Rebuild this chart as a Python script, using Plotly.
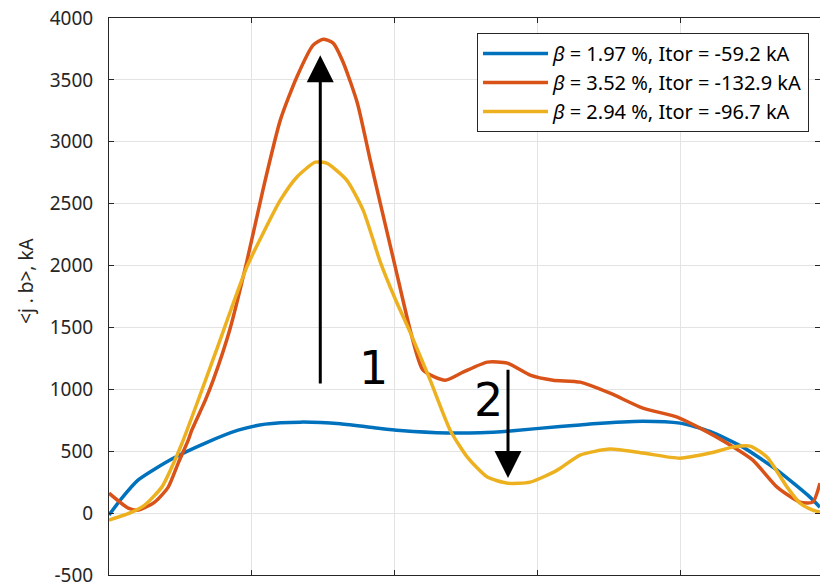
import plotly.graph_objects as go

# normalized radial coordinate (x axis has no visible labels)
x_blue = [0, 0.018, 0.041, 0.088, 0.135, 0.181, 0.219, 0.268, 0.324, 0.380, 0.408, 0.474, 0.520,
          0.566, 0.632, 0.660, 0.678, 0.748, 0.800, 0.842, 0.888, 0.936, 0.982, 0.996]
y_blue = [-15, 121, 268, 437, 566, 670, 719, 735, 722, 684, 668, 648, 650,
          666, 700, 712, 722, 743, 727, 660, 533, 347, 129, 48]

x_red = [0.000, 0.027, 0.041, 0.064, 0.083, 0.097, 0.111, 0.116, 0.135, 0.146, 0.169, 0.193,
         0.216, 0.240, 0.263, 0.286, 0.300, 0.314, 0.328, 0.348, 0.366, 0.380, 0.401, 0.422,
         0.440, 0.471, 0.496, 0.530, 0.558, 0.590, 0.622, 0.660, 0.702, 0.748, 0.796, 0.828,
         0.866, 0.902, 0.936, 0.968, 0.986, 0.996]
y_red = [161, 40, 24, 89, 210, 404, 590, 670, 913, 1074, 1478, 2030,
         2620, 3175, 3522, 3781, 3829, 3797, 3643, 3312, 2852, 2504, 1990, 1478,
         1155, 1074, 1139, 1220, 1212, 1115, 1074, 1058, 969, 848, 776, 687,
         565, 428, 210, 89, 89, 242]

x_yel = [0.000, 0.032, 0.050, 0.074, 0.088, 0.104, 0.125, 0.149, 0.193, 0.216, 0.240, 0.263,
         0.289, 0.305, 0.333, 0.356, 0.380, 0.401, 0.422, 0.450, 0.478, 0.502, 0.530, 0.558,
         0.590, 0.628, 0.660, 0.702, 0.748, 0.800, 0.842, 0.874, 0.898, 0.922, 0.950, 0.968,
         0.986, 0.996]
y_yel = [-57, 8, 65, 210, 372, 590, 913, 1292, 1987, 2262, 2528, 2714,
         2835, 2827, 2690, 2448, 2030, 1730, 1460, 1074, 670, 452, 291, 242,
         250, 347, 469, 517, 485, 444, 485, 533, 541, 452, 210, 81,
         24, 8]

names = ["<i>β</i> = 1.97 %, Itor = -59.2 kA",
         "<i>β</i> = 3.52 %, Itor = -132.9 kA",
         "<i>β</i> = 2.94 %, Itor = -96.7 kA"]
colors = ["#0072BD", "#D95319", "#EDB120"]

y_ticks = [-500, 0, 500, 1000, 1500, 2000, 2500, 3000, 3500, 4000]
x_ticks = [0, 0.2, 0.4, 0.6, 0.8]

# arrows: (x, tail y, head y) and labels
arrow1 = (0.296, 1034, 3700)
arrow2 = (0.559, 1171, 283)
label1 = (0.370, 1171, "1")
label2 = (0.531, 913, "2")

fig = go.Figure()
for xs, ys, nm, c in [(x_blue, y_blue, names[0], colors[0]),
                      (x_red, y_red, names[1], colors[1]),
                      (x_yel, y_yel, names[2], colors[2])]:
    fig.add_trace(go.Scatter(x=xs, y=ys, name=nm, mode="lines",
                             line=dict(color=c, width=3.5, shape="spline", smoothing=0.6)))

# invisible trace for right-hand ticks
fig.add_trace(go.Scatter(x=[0], y=[0], yaxis="y2", mode="markers",
                         marker=dict(opacity=0), showlegend=False, hoverinfo="skip"))

axis_col = "#262626"
grid_col = "#e3e3e3"
tick_font = dict(family="Noto Sans", size=19, color=axis_col)

fig.update_layout(
    width=820, height=582,
    margin=dict(l=109, r=0, t=18, b=7, autoexpand=False),
    paper_bgcolor="white", plot_bgcolor="white",
    showlegend=True,
    legend=dict(x=0.5176, y=0.973, xanchor="left", yanchor="top",
                bgcolor="white", bordercolor=axis_col, borderwidth=1,
                font=dict(family="Noto Sans", size=20, color="#000000"),
                itemwidth=65),
    xaxis=dict(range=[0, 0.9961], tickvals=x_ticks, showticklabels=False,
               ticks="inside", ticklen=5, tickcolor=axis_col, automargin=False,
               showline=True, linecolor=axis_col, linewidth=1, mirror="ticks",
               showgrid=True, gridcolor=grid_col, gridwidth=1, zeroline=False),
    yaxis=dict(range=[-500, 4000], tickvals=y_ticks,
               ticktext=[str(v) for v in y_ticks],
               ticks="inside", ticklen=5, tickcolor=axis_col, tickfont=tick_font,
               ticklabelstandoff=11, ticklabeloverflow="allow", automargin=False,
               showline=True, linecolor=axis_col, linewidth=1,
               showgrid=True, gridcolor=grid_col, gridwidth=1, zeroline=False),
    yaxis2=dict(range=[-500, 4000], tickvals=y_ticks, overlaying="y", side="right",
                ticks="inside", ticklen=5, tickcolor=axis_col, showticklabels=False,
                showline=False, showgrid=False, zeroline=False, automargin=False),
)

annotations = []
for ax_, tail, head in [arrow1, arrow2]:
    annotations.append(dict(x=ax_, y=head, ax=ax_, ay=tail, xref="x", yref="y",
                            axref="x", ayref="y", text="", showarrow=True,
                            arrowhead=2, arrowsize=1.8, arrowwidth=3, arrowcolor="black"))
for lx, ly, t in [label1, label2]:
    annotations.append(dict(x=lx, y=ly, xref="x", yref="y", text=t, showarrow=False,
                            font=dict(family="DejaVu Sans", size=46, color="black")))
annotations.append(dict(x=-0.1167, y=0.528, xref="paper", yref="paper",
                        xanchor="center", yanchor="middle",
                        text="&lt;j . b&gt;, kA", textangle=-90, showarrow=False,
                        font=dict(family="Noto Sans", size=19, color=axis_col)))
fig.update_layout(annotations=annotations)

fig.write_html("out.html")
